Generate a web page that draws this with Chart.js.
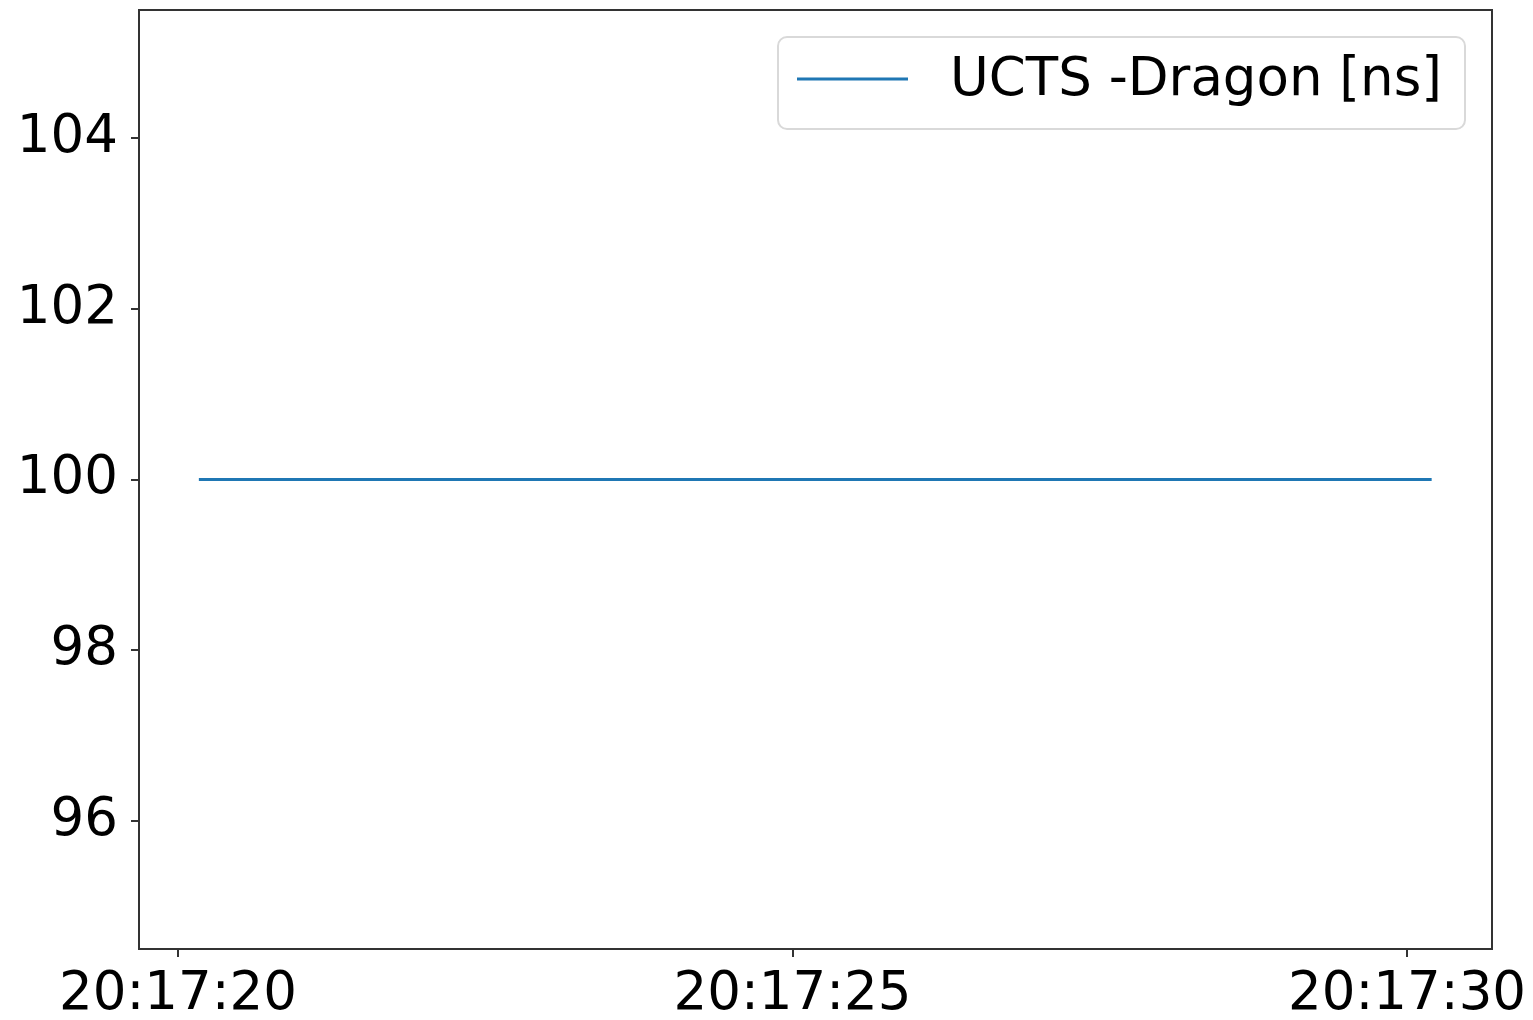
<!DOCTYPE html>
<html>
<head>
<meta charset="utf-8">
<script src="https://cdn.jsdelivr.net/npm/chart.js@4.4.1/dist/chart.umd.min.js"></script>
<style>
  html, body { margin: 0; padding: 0; background: #fff; }
  canvas { display: block; }
</style>
</head>
<body>
<canvas id="c" width="1533" height="1020"></canvas>
<script>
// Data (time in seconds after 20:17:00)
const timeSeconds = [20.17, 22.68, 25.18, 27.69, 30.20];
const uctsMinusDragon = [100, 100, 100, 100, 100];
const seriesLabel = 'UCTS -Dragon [ns]';
const xTickValues = [20, 25, 30];
const xTickLabels = ['20:17:20', '20:17:25', '20:17:30'];
const yTickValues = [96, 98, 100, 102, 104];

const FONT = "'DejaVu Sans', sans-serif";
const FS = 53;
const TICK = 8;

const framePlugin = {
  id: 'frame',
  afterDatasetsDraw(chart) {
    const { ctx, chartArea: a, scales } = chart;
    ctx.save();
    ctx.strokeStyle = '#333';
    ctx.lineWidth = 2;
    ctx.strokeRect(a.left, a.top, a.right - a.left, a.bottom - a.top);
    ctx.beginPath();
    yTickValues.forEach(v => {
      const py = Math.round(scales.y.getPixelForValue(v));
      ctx.moveTo(a.left - TICK, py);
      ctx.lineTo(a.left, py);
    });
    xTickValues.forEach(v => {
      const px = Math.round(scales.x.getPixelForValue(v));
      ctx.moveTo(px, a.bottom);
      ctx.lineTo(px, a.bottom + TICK);
    });
    ctx.stroke();
    ctx.restore();
  }
};

const legendPlugin = {
  id: 'insideLegend',
  afterDraw(chart) {
    const { ctx, chartArea: a } = chart;
    const ds = chart.data.datasets[0];
    const w = 687, h = 92;
    const x = a.right - 27 - w, y = a.top + 27;
    ctx.save();
    ctx.beginPath();
    ctx.roundRect(x, y, w, h, 9);
    ctx.fillStyle = 'rgba(255,255,255,0.8)';
    ctx.fill();
    ctx.strokeStyle = '#d9d9d9';
    ctx.lineWidth = 2;
    ctx.stroke();
    ctx.beginPath();
    ctx.moveTo(x + 19, y + 42);
    ctx.lineTo(x + 130, y + 42);
    ctx.strokeStyle = ds.borderColor;
    ctx.lineWidth = 3;
    ctx.stroke();
    ctx.fillStyle = '#000';
    ctx.font = FS + 'px ' + FONT;
    ctx.textBaseline = 'middle';
    ctx.textAlign = 'left';
    ctx.fillText(ds.label, x + 172, y + 44);
    ctx.restore();
  }
};

new Chart(document.getElementById('c'), {
  type: 'line',
  data: {
    datasets: [{
      label: seriesLabel,
      data: timeSeconds.map((t, i) => ({ x: t, y: uctsMinusDragon[i] })),
      borderColor: '#1f77b4',
      borderWidth: 3,
      pointRadius: 0,
      fill: false,
      tension: 0
    }]
  },
  options: {
    responsive: false,
    animation: false,
    layout: { padding: { left: 0, right: 41, top: 10, bottom: 0 } },
    plugins: { legend: { display: false }, tooltip: { enabled: false } },
    scales: {
      x: {
        type: 'linear',
        min: 19.683,
        max: 30.691,
        afterBuildTicks(scale) { scale.ticks = xTickValues.map(v => ({ value: v })); },
        afterFit(scale) { scale.height = 71; scale.paddingRight = 0; scale.paddingLeft = 0; },
        ticks: {
          autoSkip: false,
          maxRotation: 0,
          padding: 6,
          color: '#000',
          font: { family: FONT, size: FS },
          callback(v) { const i = xTickValues.indexOf(v); return i >= 0 ? xTickLabels[i] : ''; }
        },
        grid: { drawOnChartArea: false, drawTicks: true, tickLength: TICK, color: 'rgba(0,0,0,0)' },
        border: { display: false }
      },
      y: {
        type: 'linear',
        min: 94.5,
        max: 105.5,
        afterBuildTicks(scale) { scale.ticks = yTickValues.map(v => ({ value: v })); },
        afterFit(scale) { scale.width = 139; },
        ticks: {
          autoSkip: false,
          padding: 0,
          color: '#000',
          font: { family: FONT, size: FS, lineHeight: 0.3 },
          callback(v) { return String(v); }
        },
        grid: { drawOnChartArea: false, drawTicks: true, tickLength: 21, color: 'rgba(0,0,0,0)' },
        border: { display: false }
      }
    }
  },
  plugins: [framePlugin, legendPlugin]
});
</script>
</body>
</html>
